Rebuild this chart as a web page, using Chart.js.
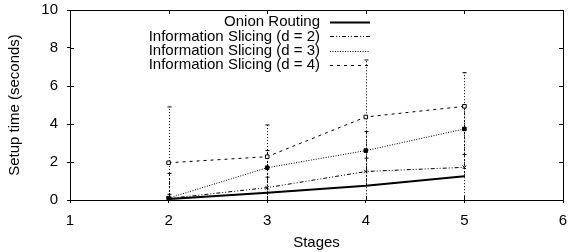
<!DOCTYPE html>
<html>
<head>
<meta charset="utf-8">
<script src="https://cdn.jsdelivr.net/npm/chart.js@4/dist/chart.umd.min.js"></script>
<style>
  html, body { margin: 0; padding: 0; background: #fff; overflow: hidden; }
  canvas { display: block; }
</style>
</head>
<body>
<canvas id="setupChart" width="568" height="252"></canvas>
<script>
// data
const stages = [2, 3, 4, 5];
const xTicks = [1, 2, 3, 4, 5, 6];
const yTicks = [0, 2, 4, 6, 8, 10];

const onionTimes = [0.05, 0.38, 0.75, 1.25];
const slicingD2 = [0.08, 0.65, 1.5, 1.72];
const slicingD3 = [0.1, 1.7, 2.6, 3.74];
const slicingD4 = [1.96, 2.28, 4.37, 4.93];

// error bar extents (low / high)
const onionLow = [0.0, 0.3, 0.6, 1.0];
const onionHigh = [0.1, 0.5, 0.9, 1.5];
const d2Low = [0.0, 0.3, 0.8, 1.2];
const d2High = [0.3, 1.2, 2.2, 2.4];
const d3Low = [0.0, 0.9, 1.6, 2.4];
const d3High = [1.4, 2.6, 3.6, 5.0];
const d4Low = [0.0, 0.1, 0.3, 0.2];
const d4High = [4.9, 3.95, 7.37, 6.7];

const labels = ["Onion Routing", "Information Slicing (d = 2)", "Information Slicing (d = 3)", "Information Slicing (d = 4)"];
const dashes = [[], [4, 2, 1, 2, 1, 2], [1, 1.5], [3, 4]];
const styles = [false, "crossRot", "rect", "rect"];

const toPts = arr => arr.map((v, i) => ({ x: stages[i], y: v }));
const series = [onionTimes, slicingD2, slicingD3, slicingD4];
const lows = [onionLow, d2Low, d3Low, d4Low];
const highs = [onionHigh, d2High, d3High, d4High];

const FONT = "'Liberation Sans', Arial, Helvetica, sans-serif";

// gnuplot-like error bars
const errorBars = {
  id: "errorBars",
  beforeDatasetsDraw(chart) {
    const { ctx, scales: { x, y } } = chart;
    ctx.save();
    ctx.strokeStyle = "#000";
    ctx.lineWidth = 1;
    for (let s = 1; s < series.length; s++) {
      const dash = s === 3 ? [1, 2] : [2, 2];
      stages.forEach((st, i) => {
        const px = Math.round(x.getPixelForValue(st)) + 0.5;
        const y1 = y.getPixelForValue(lows[s][i]);
        const y2 = y.getPixelForValue(highs[s][i]);
        ctx.setLineDash(dash);
        ctx.beginPath();
        ctx.moveTo(px, y1);
        ctx.lineTo(px, y2);
        ctx.stroke();
        ctx.setLineDash([]);
        ctx.beginPath();
        ctx.moveTo(px - 2, y2);
        ctx.lineTo(px + 2, y2);
        ctx.stroke();
      });
    }
    ctx.restore();
  }
};

// inward mirror ticks and legend with sample after text
const frameLegend = {
  id: "frameLegend",
  afterDraw(chart) {
    const { ctx, chartArea: a, scales: { x, y } } = chart;
    ctx.save();
    ctx.strokeStyle = "#000";
    ctx.lineWidth = 1;
    ctx.beginPath();
    xTicks.forEach(t => {
      const px = Math.round(x.getPixelForValue(t)) + 0.5;
      ctx.moveTo(px, a.bottom); ctx.lineTo(px, a.bottom - 4);
      ctx.moveTo(px, a.top); ctx.lineTo(px, a.top + 4);
    });
    yTicks.forEach(t => {
      const py = Math.round(y.getPixelForValue(t)) + 0.5;
      ctx.moveTo(a.left, py); ctx.lineTo(a.left + 4, py);
      ctx.moveTo(a.right, py); ctx.lineTo(a.right - 4, py);
    });
    ctx.stroke();

    ctx.font = "15px " + FONT;
    ctx.fillStyle = "#000";
    ctx.textAlign = "right";
    ctx.textBaseline = "middle";
    labels.forEach((lab, i) => {
      const ly = 22 + i * 14.4;
      ctx.fillText(lab, 320, ly);
      ctx.lineWidth = i === 0 ? 2 : 1;
      ctx.setLineDash(dashes[i]);
      ctx.beginPath();
      ctx.moveTo(330, Math.round(ly) + 0.5);
      ctx.lineTo(370, Math.round(ly) + 0.5);
      ctx.stroke();
    });
    ctx.restore();
  }
};

new Chart(document.getElementById("setupChart"), {
  type: "scatter",
  data: {
    datasets: series.map((vals, i) => ({
      label: labels[i],
      data: toPts(vals),
      showLine: true,
      borderColor: "#000",
      backgroundColor: i === 3 ? "#fff" : "#000",
      borderWidth: i === 0 ? 2 : 1,
      borderDash: dashes[i],
      pointStyle: styles[i],
      pointRadius: i === 0 ? 0 : 2.5,
      pointBorderWidth: 1,
      pointBorderColor: "#000"
    }))
  },
  options: {
    responsive: false,
    animation: false,
    layout: { padding: { left: 0, right: 5, top: 10, bottom: 0 } },
    plugins: { legend: { display: false }, tooltip: { enabled: false } },
    scales: {
      x: {
        type: "linear",
        min: 1, max: 6,
        afterBuildTicks: ax => { ax.ticks = xTicks.map(v => ({ value: v })); },
        afterFit: ax => { ax.height = 52; ax.paddingLeft = 0; ax.paddingRight = 0; },
        grid: { drawOnChartArea: false, tickLength: 3, color: "#000" },
        border: { color: "#000", width: 1 },
        ticks: { color: "#000", font: { family: FONT, size: 15 }, padding: 9 },
        title: { display: true, text: "Stages", color: "#000", font: { family: FONT, size: 15 }, padding: { top: 0, bottom: 0 } }
      },
      y: {
        min: 0, max: 10,
        afterBuildTicks: ax => { ax.ticks = yTicks.map(v => ({ value: v })); },
        afterFit: ax => { ax.width = 70; ax.paddingTop = 0; ax.paddingBottom = 0; },
        grid: { drawOnChartArea: false, tickLength: 3, color: "#000" },
        border: { color: "#000", width: 1 },
        ticks: { color: "#000", font: { family: FONT, size: 15 }, padding: 9 },
        title: { display: true, text: "Setup time (seconds)", color: "#000", font: { family: FONT, size: 15 }, padding: { top: 6, bottom: 0 } }
      },
      x2: {
        type: "linear", position: "top", min: 1, max: 6,
        grid: { display: false },
        border: { color: "#000", width: 1 },
        ticks: { display: false },
        afterFit: ax => { ax.height = 0; ax.paddingLeft = 0; ax.paddingRight = 0; }
      },
      y2: {
        position: "right", min: 0, max: 10,
        grid: { display: false },
        border: { color: "#000", width: 1 },
        ticks: { display: false },
        afterFit: ax => { ax.width = 0; ax.paddingTop = 0; ax.paddingBottom = 0; }
      }
    }
  },
  plugins: [errorBars, frameLegend]
});
</script>
</body>
</html>
